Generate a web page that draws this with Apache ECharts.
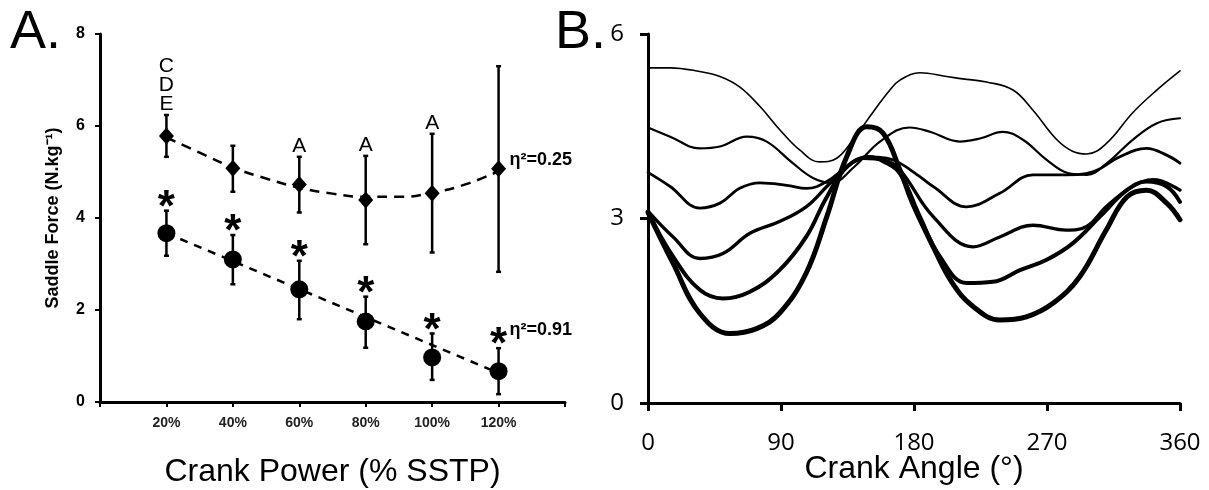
<!DOCTYPE html>
<html><head><meta charset="utf-8">
<script src="https://cdn.jsdelivr.net/npm/echarts@6/dist/echarts.min.js"></script>
<style>html,body{margin:0;padding:0;background:#fff}#c{width:1209px;height:490px}</style>
</head><body><div id="c"></div>
<script>
// ---------- Panel A data ----------
const powerLevels = [20, 40, 60, 80, 100, 120];
const diamondMean = [5.78, 5.08, 4.73, 4.39, 4.54, 5.07];
const diamondLow  = [5.33, 4.57, 4.12, 3.43, 3.25, 2.83];
const diamondHigh = [6.24, 5.57, 5.33, 5.35, 5.83, 7.30];
const circleMean  = [3.67, 3.10, 2.45, 1.75, 0.97, 0.67];
const circleLow   = [3.18, 2.56, 1.80, 1.18, 0.48, 0.17];
const circleHigh  = [4.16, 3.63, 3.07, 2.29, 1.49, 1.17];
const diamondLetters = ['C\nD\nE', '', 'A', 'A', 'A', ''];
const circleStars = ['*', '*', '*', '*', '*', '*'];
const trendX = [20, 30, 40, 50, 60, 70, 80, 90, 100, 110, 120];
const diamondTrend = [5.75, 5.42, 5.10, 4.86, 4.66, 4.53, 4.46, 4.46, 4.55, 4.73, 5.02];
const circleTrendX = [20, 120];
const circleTrend = [3.67, 0.63];
const etaLabels = ['η²=0.25', 'η²=0.91'];
const powerTickLabels = ['20%', '40%', '60%', '80%', '100%', '120%'];

// ---------- Panel B data: [crank angle (deg), saddle force] ----------
const curve20 = [[0,5.45],[15,5.45],[35,5.39],[48.7,5.31],[62,5.14],[75.8,4.82],[89.3,4.44],[102.8,4.11],[116,3.92],[127.7,3.98],[138.7,4.28],[152,4.72],[163.7,5.09],[170.5,5.25],[184,5.37],[202,5.31],[213,5.27],[229,5.22],[247,5.09],[260.5,4.76],[276.7,4.28],[287.6,4.09],[297,4.05],[310.6,4.23],[328,4.72],[344.4,5.09],[360,5.40]];
const curve40 = [[0,4.48],[15,4.33],[35,4.14],[48.7,4.17],[66.8,4.33],[80.3,4.25],[98,3.90],[111.6,3.66],[124,3.58],[140,3.85],[157,4.25],[177,4.48],[190.8,4.41],[211,4.25],[224.6,4.30],[240,4.41],[253.7,4.28],[270,3.95],[284,3.74],[297,3.71],[310.6,3.90],[328,4.28],[344.4,4.55],[360,4.63]];
const curve60 = [[0,3.75],[15,3.52],[35,3.17],[48.7,3.25],[62,3.49],[75.8,3.58],[93.8,3.54],[107.4,3.49],[121,3.60],[135,3.85],[148,4.00],[161.5,3.98],[170.5,3.90],[184,3.68],[193,3.52],[215.6,3.19],[238,3.41],[260.5,3.71],[283,3.71],[301,3.76],[319,4.00],[337.4,4.14],[351,4.03],[360,3.90]];
const curve80 = [[0,3.12],[17,2.70],[35,2.35],[50.7,2.43],[69,2.76],[89,2.95],[107,3.19],[121,3.52],[135,3.85],[145.5,3.98],[160,3.95],[170.5,3.79],[193,3.03],[220,2.54],[238,2.70],[260.5,2.89],[283,2.81],[296.8,2.87],[310,3.19],[328,3.52],[342,3.63],[360,3.46]];
const curve100 = [[0,3.10],[17,2.38],[35,1.84],[50.7,1.70],[69,1.81],[89,2.16],[107,2.70],[121,3.35],[135,3.85],[150,4.00],[160,3.92],[170.5,3.73],[184,3.03],[197.6,2.38],[215.6,1.95],[233.4,1.97],[251.7,2.16],[269.8,2.33],[287.6,2.60],[305.8,3.03],[324,3.46],[337.4,3.60],[351,3.52],[360,3.27]];
const curve120 = [[0,3.10],[17,2.27],[35,1.46],[55.5,1.13],[73.5,1.21],[89,1.46],[107,2.11],[121,3.03],[134.4,4.00],[148,4.49],[159,4.39],[170.5,3.79],[179,3.25],[193,2.54],[206,1.95],[220,1.57],[238,1.35],[256,1.40],[274,1.62],[292,2.05],[310,2.81],[324,3.35],[337.4,3.46],[351,3.25],[360,2.98]];
const curves = [curve20, curve40, curve60, curve80, curve100, curve120];
const curveWidths = [1.6, 2.2, 2.8, 3.3, 4.0, 5.0];

const FONT = "'Liberation Sans', Arial, sans-serif";
const FONT_B = "'Open Sans', sans-serif";
const pairs = (xs, ys) => xs.map((x, i) => [x, ys[i]]);

function errorBars(low, high) {
  return {
    type: 'custom', xAxisIndex: 0, yAxisIndex: 0, z: 2,
    data: powerLevels.map((x, i) => [x, low[i], high[i]]),
    encode: { x: 0, y: [1, 2] },
    renderItem(params, api) {
      const x = api.value(0);
      const lo = api.coord([x, api.value(1)]);
      const hi = api.coord([x, api.value(2)]);
      const cw = 2.5, st = { stroke: '#000', lineWidth: 2.5 };
      return { type: 'group', children: [
        { type: 'line', shape: { x1: lo[0], y1: lo[1], x2: hi[0], y2: hi[1] }, style: st },
        { type: 'line', shape: { x1: lo[0] - cw, y1: lo[1], x2: lo[0] + cw, y2: lo[1] }, style: st },
        { type: 'line', shape: { x1: hi[0] - cw, y1: hi[1], x2: hi[0] + cw, y2: hi[1] }, style: st }
      ] };
    }
  };
}

function labelSeries(ys, texts, labelOpts) {
  return {
    type: 'scatter', xAxisIndex: 0, yAxisIndex: 0, z: 5,
    symbolSize: 0, itemStyle: { color: 'transparent', opacity: 1 }, silent: true,
    data: powerLevels.map((x, i) => ({ value: [x, ys[i]], name: texts[i] })),
    label: Object.assign({ show: true, formatter: p => p.name, color: '#000', opacity: 1, fontFamily: FONT }, labelOpts)
  };
}

const chart = echarts.init(document.getElementById('c'), null, { renderer: 'canvas' });
chart.setOption({
  backgroundColor: '#fff',
  animation: false,
  grid: [
    { left: 100, right: 644, top: 34, bottom: 88, containLabel: false, outerBoundsMode: 'none' },
    { left: 648, right: 29, top: 34, bottom: 87, containLabel: false, outerBoundsMode: 'none' }
  ],
  xAxis: [
    {
      gridIndex: 0, type: 'value', min: 0, max: 140, interval: 20,
      name: 'Crank Power (% SSTP)', nameLocation: 'middle', nameGap: 54, nameMoveOverlap: false,
      nameTextStyle: { fontFamily: FONT, fontSize: 32, color: '#000' },
      axisLine: { show: true, onZero: false, lineStyle: { color: '#000', width: 3 } },
      axisTick: { show: true, length: 5, lineStyle: { color: '#000', width: 2 } },
      axisLabel: {
        fontFamily: FONT, fontWeight: 'bold', fontSize: 14, color: '#222', margin: 14,
        formatter: v => { const i = powerLevels.indexOf(v); return i >= 0 ? powerTickLabels[i] : ''; }
      },
      splitLine: { show: false }
    },
    {
      gridIndex: 1, type: 'value', min: 0, max: 360, interval: 90,
      name: 'Crank Angle (°)', nameLocation: 'middle', nameGap: 50, nameMoveOverlap: false,
      nameTextStyle: { fontFamily: FONT, fontSize: 32, color: '#000' },
      axisLine: { show: true, onZero: false, lineStyle: { color: '#000', width: 3 } },
      axisTick: { show: true, length: 8, lineStyle: { color: '#000', width: 3 } },
      axisLabel: { fontFamily: FONT_B, fontSize: 24, color: '#000', margin: 28 },
      splitLine: { show: false }
    }
  ],
  yAxis: [
    {
      gridIndex: 0, type: 'value', min: 0, max: 8, interval: 2,
      name: 'Saddle Force (N.kg⁻¹)', nameLocation: 'middle', nameGap: 38, nameRotate: 90, nameMoveOverlap: false,
      nameTextStyle: { fontFamily: FONT, fontWeight: 'bold', fontSize: 18, color: '#000' },
      axisLine: { show: true, onZero: false, lineStyle: { color: '#000', width: 3 } },
      axisTick: { show: true, length: 5, lineStyle: { color: '#000', width: 2 } },
      axisLabel: { fontFamily: FONT, fontWeight: 'bold', fontSize: 16, color: '#000', margin: 15 },
      splitLine: { show: false }
    },
    {
      gridIndex: 1, type: 'value', min: 0, max: 6, interval: 3,
      axisLine: { show: true, onZero: false, lineStyle: { color: '#000', width: 3 } },
      axisTick: { show: true, length: 8, lineStyle: { color: '#000', width: 3 } },
      axisLabel: { fontFamily: FONT_B, fontSize: 24, color: '#000', margin: 24 },
      splitLine: { show: false }
    }
  ],
  graphic: [
    { type: 'text', left: 10, top: 6, style: { text: 'A.', font: "54px 'Liberation Sans', Arial, sans-serif", fill: '#000' } },
    { type: 'text', left: 555, top: 6, style: { text: 'B.', font: "54px 'Liberation Sans', Arial, sans-serif", fill: '#000' } }
  ],
  series: [
    errorBars(diamondLow, diamondHigh),
    errorBars(circleLow, circleHigh),
    {
      type: 'line', xAxisIndex: 0, yAxisIndex: 0, z: 3, smooth: true, showSymbol: false,
      data: pairs(trendX, diamondTrend),
      lineStyle: { color: '#000', width: 2.5, type: [10, 7] }
    },
    {
      type: 'line', xAxisIndex: 0, yAxisIndex: 0, z: 3, showSymbol: false,
      data: pairs(circleTrendX, circleTrend),
      lineStyle: { color: '#000', width: 2.5, type: [8, 7] }
    },
    {
      type: 'scatter', xAxisIndex: 0, yAxisIndex: 0, z: 4, symbol: 'diamond', symbolSize: [15, 17],
      itemStyle: { color: '#000', opacity: 1 }, data: pairs(powerLevels, diamondMean)
    },
    {
      type: 'scatter', xAxisIndex: 0, yAxisIndex: 0, z: 4, symbol: 'circle', symbolSize: 18,
      itemStyle: { color: '#000', opacity: 1 }, data: pairs(powerLevels, circleMean)
    },
    labelSeries(diamondHigh, diamondLetters, { position: 'top', distance: 1, fontSize: 21, lineHeight: 19 }),
    labelSeries(circleHigh, circleStars, { position: 'top', distance: -20, fontSize: 44, fontWeight: 'bold' }),
    {
      type: 'scatter', xAxisIndex: 0, yAxisIndex: 0, z: 5, symbolSize: 0,
      itemStyle: { color: 'transparent', opacity: 1 },
      data: [
        { value: [powerLevels[5], diamondMean[5]], name: etaLabels[0], label: { offset: [2, -9] } },
        { value: [powerLevels[5], circleHigh[5]], name: etaLabels[1], label: { offset: [2, -18] } }
      ],
      label: { show: true, position: 'right', distance: 9, formatter: p => p.name,
               fontFamily: FONT, fontWeight: 'bold', fontSize: 18, color: '#000', opacity: 1 }
    },
    ...curves.map((c, i) => ({
      type: 'line', xAxisIndex: 1, yAxisIndex: 1, smooth: 0.4, showSymbol: false,
      data: c,
      lineStyle: { color: '#000', width: curveWidths[i], cap: 'round', join: 'round' }
    }))
  ]
});
</script>
</body></html>
